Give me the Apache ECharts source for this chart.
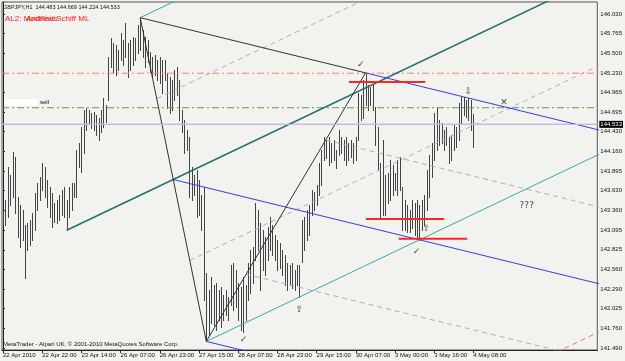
<!DOCTYPE html>
<html>
<head>
<meta charset="utf-8">
<script src="https://cdn.jsdelivr.net/npm/echarts@6/dist/echarts.min.js"></script>
<style>
  html, body { margin: 0; padding: 0; background: #f2f2ef; }
  #main { width: 625px; height: 361px; }
</style>
</head>
<body>
<div id="main"></div>
<script>
// hourly GBPJPY bars, one per hour, index 0 = 22 Apr 2010
const barHigh = [
  143.37, 143.50, 143.95, 143.84, 144.15, 144.09, 143.54, 143.43, 143.37, 143.16,
  143.19, 143.23, 143.33, 143.60, 143.73, 143.81, 144.00, 143.95, 143.77, 143.68,
  143.60, 143.46, 143.50, 143.57, 143.64, 143.68, 143.50, 143.68, 143.73, 143.73,
  144.18, 144.28, 144.49, 144.73, 144.75, 144.73, 144.68, 144.70, 144.66, 144.62,
  144.73, 144.89, 144.79, 145.45, 145.70, 145.64, 145.61, 145.54, 145.77, 145.68,
  145.91, 145.64, 145.68, 145.72, 145.70, 145.88, 145.98, 145.81, 145.72, 145.68,
  145.51, 145.45, 145.47, 145.40, 145.45, 145.40, 145.40, 145.23, 145.17, 145.13,
  145.27, 145.31, 145.13, 144.73, 144.59, 144.45, 144.36, 143.95, 143.84, 143.91,
  143.77, 143.57, 143.68, 142.51, 142.28, 142.46, 142.35, 142.37, 142.28, 142.32,
  142.21, 142.28, 142.18, 142.62, 142.65, 142.55, 142.37, 142.32, 142.46, 142.35,
  142.65, 142.82, 142.86, 143.46, 143.37, 143.19, 143.09, 143.00, 143.13, 143.27,
  143.16, 143.03, 142.96, 142.92, 142.82, 142.75, 142.65, 142.62, 142.65, 142.55,
  142.62, 142.62, 143.23, 143.27, 143.37, 143.43, 143.64, 143.61, 143.71, 144.00,
  144.18, 144.36, 144.32, 144.36, 144.28, 144.32, 144.18, 144.45, 144.36, 144.32,
  144.36, 144.28, 144.32, 144.28, 144.36, 144.96, 144.93, 145.13, 145.23, 145.06,
  145.04, 145.06, 144.77, 144.49, 144.00, 144.32, 143.84, 143.87, 144.05, 143.98,
  143.87, 144.05, 144.09, 143.68, 143.50, 143.43, 143.37, 143.50, 143.46, 143.50,
  143.43, 143.50, 143.57, 143.91, 144.11, 144.28, 144.68, 144.77, 144.59, 144.55,
  144.45, 144.49, 144.36, 144.39, 144.52, 144.49, 144.82, 144.90, 144.90, 144.86,
  144.89, 144.86, 144.669
];
const barLow = [
  143.16, 143.16, 143.27, 143.43, 143.54, 143.33, 143.00, 142.86, 142.96, 142.44,
  142.82, 142.89, 142.96, 143.09, 143.37, 143.50, 143.64, 143.54, 143.41, 143.27,
  143.13, 143.20, 143.19, 143.23, 143.30, 143.27, 143.09, 143.27, 143.37, 143.54,
  143.54, 143.95, 143.88, 144.14, 144.45, 144.53, 144.48, 144.45, 144.39, 144.32,
  144.43, 144.49, 144.56, 144.86, 145.31, 145.23, 145.20, 145.27, 145.40, 145.34,
  145.45, 145.17, 145.27, 145.34, 145.40, 145.50, 145.54, 145.45, 145.31, 145.38,
  145.24, 145.17, 145.20, 145.13, 145.09, 144.96, 145.13, 144.75, 144.68, 144.73,
  144.86, 144.93, 144.59, 144.43, 144.14, 144.18, 143.54, 143.50, 143.57, 143.27,
  143.30, 143.09, 142.14, 141.58, 141.67, 141.83, 141.80, 141.74, 141.87, 141.78,
  141.87, 141.94, 141.87, 142.08, 142.01, 142.05, 141.87, 141.74, 141.71, 141.87,
  142.14, 142.24, 142.37, 142.69, 142.82, 142.28, 142.55, 142.48, 142.69, 142.82,
  142.75, 142.69, 142.55, 142.58, 142.48, 142.35, 142.28, 142.35, 142.31, 142.28,
  142.35, 142.18, 142.66, 142.82, 142.96, 143.03, 143.30, 143.37, 143.43, 143.57,
  143.71, 144.05, 144.07, 143.98, 144.02, 144.05, 143.94, 144.11, 144.14, 144.05,
  143.98, 144.05, 144.09, 144.00, 144.05, 144.32, 144.59, 144.62, 144.79, 144.73,
  144.79, 144.73, 144.25, 143.91, 143.27, 143.30, 143.30, 143.46, 143.50, 143.57,
  143.64, 143.57, 143.64, 143.09, 143.09, 143.07, 143.07, 143.12, 143.03, 143.00,
  142.96, 143.09, 143.16, 143.37, 143.54, 143.81, 144.05, 144.18, 144.25, 144.28,
  144.18, 144.25, 144.00, 144.05, 144.18, 144.22, 144.32, 144.53, 144.66, 144.63,
  144.59, 144.45, 144.224
];

const timeLabels = ['22 Apr 2010', '22 Apr 22:00', '23 Apr 14:00', '26 Apr 07:00', '26 Apr 23:00',
  '27 Apr 15:00', '28 Apr 07:00', '28 Apr 23:00', '29 Apr 15:00', '30 Apr 07:00',
  '3 May 00:00', '3 May 16:00', '4 May 08:00'];
const timeTicks = [0, 16, 32, 48, 64, 80, 96, 112, 128, 144, 160, 176, 192];
const priceTicks = [146.030, 145.765, 145.500, 145.230, 144.965, 144.695, 144.430, 144.160,
  143.895, 143.630, 143.360, 143.095, 142.825, 142.560, 142.290, 142.025, 141.760, 141.490];

// pitchfork pivots [bar, price]
const pivotP1 = [26, 143.09];
const pivotA = [56, 145.98];
const pivotB = [83, 141.58];
const pivotC = [148, 145.23];

// horizontal levels
const levelRed = 145.225;
const levelSell = 144.756;
const bidPrice = 144.533;

// red marker segments [barFrom, barTo, price]
const redSegments = [[141.2, 172.4, 145.106], [148.1, 180.1, 143.244], [161.5, 189.5, 142.976]];

// text marks [bar, price, text]
const marks = [
  [146.0, 145.34, '✓'], [98.2, 141.61, '✓'], [168.8, 142.80, '✓'],
  [120.9, 142.01, '⇧'], [172.8, 143.11, '⇧'], [189.9, 144.98, '⇩'],
  [204.5, 144.82, '✕'], [213.8, 143.43, '???']
];

const X_MIN = -0.406, X_MAX = 242.6;
const FONT = 'Liberation Sans';

const mid = (p, q) => [(p[0] + q[0]) / 2, (p[1] + q[1]) / 2];
const slopeOf = (p, q) => (q[1] - p[1]) / (q[0] - p[0]);
const ray = (p, s) => [p, [X_MAX + 5, p[1] + s * (X_MAX + 5 - p[0])]];

function lineSeries (data, color, type, width) {
  return {
    type: 'line', data: data, symbol: 'none', silent: true, clip: true,
    animation: false,
    lineStyle: { color: color, width: width || 1, type: type || 'solid' }
  }
}

// Andrews pitchfork (teal) from P1, A, B
const mAB = mid(pivotA, pivotB);
const sTeal = slopeOf(pivotP1, mAB);
// warning line below the lower tine, one fork width further
const warnTeal = [2 * pivotB[0] - mAB[0], 2 * pivotB[1] - mAB[1]];
// modified Schiff (blue) from A, B, C
const mBC = mid(pivotB, pivotC);
const sBlue = slopeOf(mAB, mBC);

const series = [
  lineSeries(ray(mid(pivotA, mAB), sTeal), '#b8a8c0', [5, 4]),
  lineSeries(ray(mid(mAB, pivotB), sTeal), '#b8a8c0', [5, 4]),
  lineSeries(ray(mid(pivotB, mBC), sBlue), '#b8a8c0', [5, 4]),
  lineSeries(ray(mid(mBC, pivotC), sBlue), '#b8a8c0', [5, 4]),
  lineSeries(ray(warnTeal, sTeal), '#e87a6a', [5, 4]),
  lineSeries([[X_MIN, levelRed], [X_MAX, levelRed]], '#f08a70', [7, 3, 2, 3]),
  lineSeries([[X_MIN, levelSell], [X_MAX, levelSell]], '#5aa05a', [7, 3, 2, 3]),
  {
    type: 'custom',
    silent: true,
    animation: false,
    data: barHigh.map((h, i) => [i, h, barLow[i]]),
    encode: { x: 0, y: [1, 2] },
    renderItem: function (params, api) {
      const top = api.coord([api.value(0), api.value(1)]);
      const bot = api.coord([api.value(0), api.value(2)]);
      const x = Math.round(top[0]) + 0.5;
      return {
        type: 'line',
        shape: { x1: x, y1: Math.round(top[1]), x2: x, y2: Math.round(bot[1]) + 1 },
        style: { stroke: '#444444', lineWidth: 1 }
      };
    }
  },
  lineSeries([[X_MIN, bidPrice], [X_MAX, bidPrice]], '#c4b6e6'),
  lineSeries(ray(pivotP1, sTeal), '#266e6e', 'solid', 1.5),
  lineSeries(ray(pivotA, sTeal), '#3aa0a0'),
  lineSeries(ray(pivotB, sTeal), '#3aa8a8'),
  lineSeries(ray(mAB, sBlue), '#3a3af0'),
  lineSeries(ray(pivotB, sBlue), '#3a3af0'),
  lineSeries(ray(pivotC, sBlue), '#3a3af0'),
  lineSeries([pivotA, pivotB], '#333333'),
  lineSeries([pivotB, pivotC], '#333333'),
  lineSeries([pivotA, pivotC], '#333333')
];

redSegments.forEach(function (s) {
  series.push(lineSeries([[s[0], s[2]], [s[1], s[2]]], '#ff2424', 'solid', 2));
});

series.push({
  type: 'scatter',
  silent: true,
  animation: false,
  symbolSize: 1,
  itemStyle: { color: 'rgba(0,0,0,0)' },
  data: marks.map(m => ({ value: [m[0], m[1]], name: m[2] })),
  label: {
    show: true, position: 'inside', formatter: p => p.name,
    color: '#111', fontSize: 9, fontFamily: 'DejaVu Sans'
  }
});

// bid price box on the axis
series.push({
  type: 'line', data: [], silent: true,
  markLine: {
    silent: true, symbol: 'none', animation: false,
    lineStyle: { color: '#c4b6e6', type: 'solid', width: 1 },
    data: [{ yAxis: bidPrice }],
    label: {
      position: 'end', formatter: bidPrice.toFixed(3), distance: 2,
      color: '#fff', backgroundColor: '#000', padding: [1, 1, 0, 1],
      fontSize: 6, fontFamily: FONT
    }
  }
});

const chart = echarts.init(document.getElementById('main'));
chart.setOption({
  backgroundColor: '#f2f2ef',
  animation: false,
  grid: { left: 2, right: 24, top: 2, bottom: 11, show: true, borderColor: '#555', borderWidth: 1 },
  xAxis: {
    type: 'value', min: X_MIN, max: X_MAX,
    axisLine: { show: true, lineStyle: { color: '#222' } },
    axisTick: { show: true, customValues: timeTicks, length: 3, lineStyle: { color: '#222' } },
    axisLabel: {
      customValues: timeTicks, formatter: v => timeLabels[timeTicks.indexOf(Math.round(v))] || '',
      align: 'left', margin: 2, fontSize: 6, color: '#111', fontFamily: FONT
    },
    splitLine: { show: false }
  },
  yAxis: {
    type: 'value', position: 'right', min: 141.463, max: 146.193, scale: true,
    axisLine: { show: true, lineStyle: { color: '#222' } },
    axisTick: { show: true, customValues: priceTicks, length: 2, lineStyle: { color: '#222' } },
    axisLabel: {
      customValues: priceTicks, formatter: v => v.toFixed(3),
      margin: 3, fontSize: 6, color: '#111', fontFamily: FONT
    },
    splitLine: { show: false }
  },
  graphic: [
    { type: 'text', left: 3, top: 4, style: { text: 'GBPJPY,H1  144.483 144.669 144.224 144.533', fontSize: 5.5, fill: '#111', fontFamily: FONT } },
    { type: 'text', left: 5, top: 15, style: { text: 'AL2: Modified Schiff ML', fontSize: 8, fill: '#ff2020', fontFamily: FONT } },
    { type: 'text', left: 26, top: 15, style: { text: 'Andrews', fontSize: 8, fill: '#ff2020', fontFamily: FONT } },
    { type: 'rect', left: 4, top: 99, shape: { width: 34, height: 7, r: 3 }, style: { fill: '#ffffff' } },
    { type: 'text', left: 40, top: 99, style: { text: 'sell', fontSize: 6, fill: '#111', fontFamily: FONT } },
    { type: 'text', left: 3, top: 341, style: { text: 'MetaTrader - Alpari UK, © 2001-2010 MetaQuotes Software Corp.', fontSize: 6, fill: '#111', fontFamily: FONT } }
  ],
  series: series
});
</script>
</body>
</html>
